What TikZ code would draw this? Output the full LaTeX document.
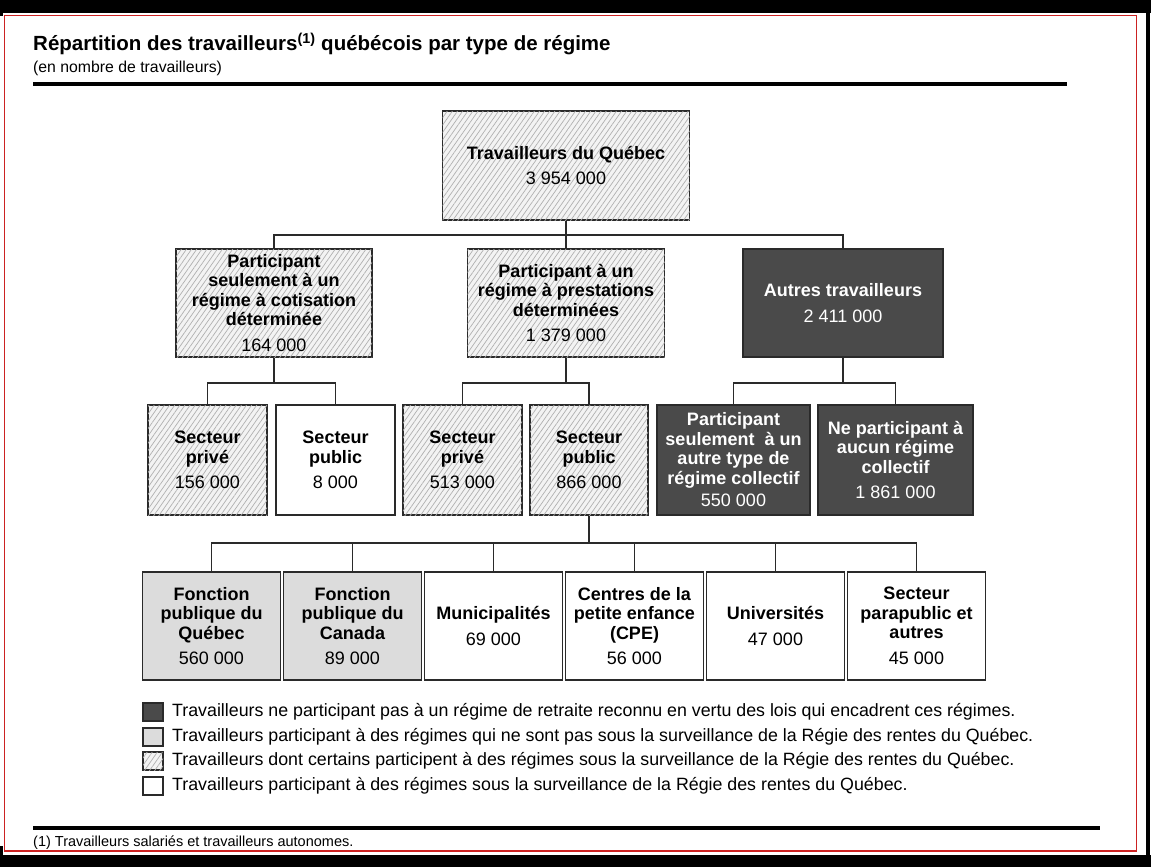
\documentclass[tikz,border=0pt]{standalone}
\usepackage{fontspec}
\setmainfont{Liberation Sans}
\usetikzlibrary{patterns.meta}
\definecolor{darkfill}{HTML}{4A4A4A}
\definecolor{lightfill}{HTML}{DCDCDC}
\definecolor{hatchbg}{HTML}{F3F3F3}
\definecolor{hatchline}{HTML}{B0B0B0}
\definecolor{framered}{HTML}{CC2222}
\definecolor{boxline}{HTML}{2A2A2A}
\newcommand{\boxnum}[1]{\\[6pt]{\mdseries #1}}
\tikzset{
  base/.style={draw=boxline, line width=1.3pt, inner sep=0pt, align=center,
    font=\bfseries\fontsize{18}{19.5}\selectfont},
  hatchbox/.style={base, fill=hatchbg,
    postaction={pattern={Lines[angle=55,distance=4.2pt,line width=0.7pt]}, pattern color=hatchline}},
  darkbox/.style={base, fill=darkfill, text=white},
  lightbox/.style={base, fill=lightfill},
  plainbox/.style={base, fill=white},
  lvltwo/.style={minimum height=108pt},
  lvlthree/.style={minimum height=110pt},
  lvlfour/.style={minimum height=108pt, minimum width=137.5pt},
  conn/.style={line width=1.3pt, boxline},
  legsq/.style={draw=boxline, line width=1.2pt, minimum width=20pt, minimum height=18pt, inner sep=0pt},
  legtxt/.style={anchor=west, inner sep=0pt, font=\fontsize{17.8}{19}\selectfont},
}
\begin{document}
\begin{tikzpicture}[x=1pt,y=-1pt]
\useasboundingbox (0,0) rectangle (1151,867);
\fill[white] (0,0) rectangle (1151,867);
% frame
\fill[black] (0,0) rectangle (1151,13);
\fill[black] (0,855) rectangle (1151,867);
\fill[black] (1145.5,13) rectangle (1149.5,867);
\fill[black] (0,846) rectangle (3,867);
\fill[black] (0,13) rectangle (3,16);
\draw[framered, line width=1.2pt] (4.5,15.5) rectangle (1136.5,851);
% title
\node[anchor=base west, inner sep=0pt, font=\bfseries\fontsize{20.5}{24}\selectfont] (title) at (33,51)
  {Répartition des travailleurs\textsuperscript{(1)} québécois par type de régime};
\node[anchor=base west, inner sep=0pt, font=\fontsize{15.8}{18}\selectfont] (subtitle) at (33,73)
  {(en nombre de travailleurs)};
\draw[line width=4pt] (33,84) -- (1067,84);
% level 1
\node[hatchbox, minimum width=247pt, minimum height=109pt] (T) at (566,165.5)
  {Travailleurs du Québec\boxnum{3 954 000}};
% level 2
\node[hatchbox, lvltwo, minimum width=196pt] (A) at (274,303)
  {Participant\\seulement à un\\régime à cotisation\\déterminée\boxnum{164 000}};
\node[hatchbox, lvltwo, minimum width=197pt] (B) at (566,303)
  {Participant à un\\régime à prestations\\déterminées\boxnum{1 379 000}};
\node[darkbox, lvltwo, minimum width=200pt] (C) at (843,303)
  {Autres travailleurs\boxnum{2 411 000}};
% level 3
\node[hatchbox, lvlthree, minimum width=119pt] (A1) at (207.5,460)
  {Secteur\\privé\boxnum{156 000}};
\node[plainbox, lvlthree, minimum width=119pt] (A2) at (335.5,460)
  {Secteur\\public\boxnum{8 000}};
\node[hatchbox, lvlthree, minimum width=119pt] (B1) at (462.5,460)
  {Secteur\\privé\boxnum{513 000}};
\node[hatchbox, lvlthree, minimum width=118pt] (B2) at (589,460)
  {Secteur\\public\boxnum{866 000}};
\node[darkbox, lvlthree, minimum width=153pt] (C1) at (733.5,460)
  {Participant\\seulement\ \ à un\\autre type de\\régime collectif\\[3pt]{\mdseries 550 000}};
\node[darkbox, lvlthree, minimum width=155pt] (C2) at (895.5,460)
  {Ne participant à\\aucun régime\\collectif\boxnum{1 861 000}};
% level 4
\node[lightbox, lvlfour] (D1) at (211.5,626) {Fonction\\publique du\\Québec\boxnum{560 000}};
\node[lightbox, lvlfour] (D2) at (352.5,626) {Fonction\\publique du\\Canada\boxnum{89 000}};
\node[plainbox, lvlfour] (D3) at (493.5,626) {Municipalités\boxnum{69 000}};
\node[plainbox, lvlfour] (D4) at (634.5,626) {Centres de la\\petite enfance\\(CPE)\boxnum{56 000}};
\node[plainbox, lvlfour] (D5) at (775.5,626) {Universités\boxnum{47 000}};
\node[plainbox, lvlfour] (D6) at (916.5,626) {Secteur\\parapublic et\\autres\boxnum{45 000}};
% connectors
\coordinate (j1) at (566,235);
\draw[conn] (T.south) -- (j1);
\draw[conn] (A.north) |- (j1) -| (C.north);
\draw[conn] (j1) -- (B.north);
\coordinate (ja) at (274,383);
\draw[conn] (A.south) -- (ja);
\draw[conn] (A1.north) |- (ja) -| (A2.north);
\coordinate (jb) at (566,383);
\draw[conn] (B.south) -- (jb);
\draw[conn] (B1.north) |- (jb) -| (B2.north);
\coordinate (jc) at (843,383);
\draw[conn] (C.south) -- (jc);
\draw[conn] (C1.north) |- (jc) -| (C2.north);
\coordinate (jd) at (589,543);
\draw[conn, line width=2pt] (B2.south) -- (jd);
\draw[conn] (D1.north) |- (jd) -| (D6.north);
\draw[conn] (D2.north) -- (D2.north |- jd);
\draw[conn] (D3.north) -- (D3.north |- jd);
\draw[conn] (D4.north) -- (D4.north |- jd);
\draw[conn] (D5.north) -- (D5.north |- jd);
% legend
\node[legsq, fill=darkfill] (k1) at (153,712) {};
\node[legsq, fill=lightfill] (k2) at (153,737) {};
\node[legsq, fill=hatchbg, postaction={pattern={Lines[angle=55,distance=4.2pt,line width=0.7pt]}, pattern color=hatchline}] (k3) at (153,761) {};
\node[legsq, fill=white] (k4) at (153,786) {};
\node[legtxt] (t1) at (172,712) {Travailleurs ne participant pas à un régime de retraite reconnu en vertu des lois qui encadrent ces régimes.};
\node[legtxt] (t2) at (172,737) {Travailleurs participant à des régimes qui ne sont pas sous la surveillance de la Régie des rentes du Québec.};
\node[legtxt] (t3) at (172,761) {Travailleurs dont certains participent à des régimes sous la surveillance de la Régie des rentes du Québec.};
\node[legtxt] (t4) at (172,786) {Travailleurs participant à des régimes sous la surveillance de la Régie des rentes du Québec.};
% footnote
\draw[line width=4pt] (33,828) -- (1100,828);
\node[anchor=west, inner sep=0pt, font=\fontsize{14.5}{17}\selectfont] (fn) at (33,843)
  {(1) Travailleurs salariés et travailleurs autonomes.};
\end{tikzpicture}
\end{document}
